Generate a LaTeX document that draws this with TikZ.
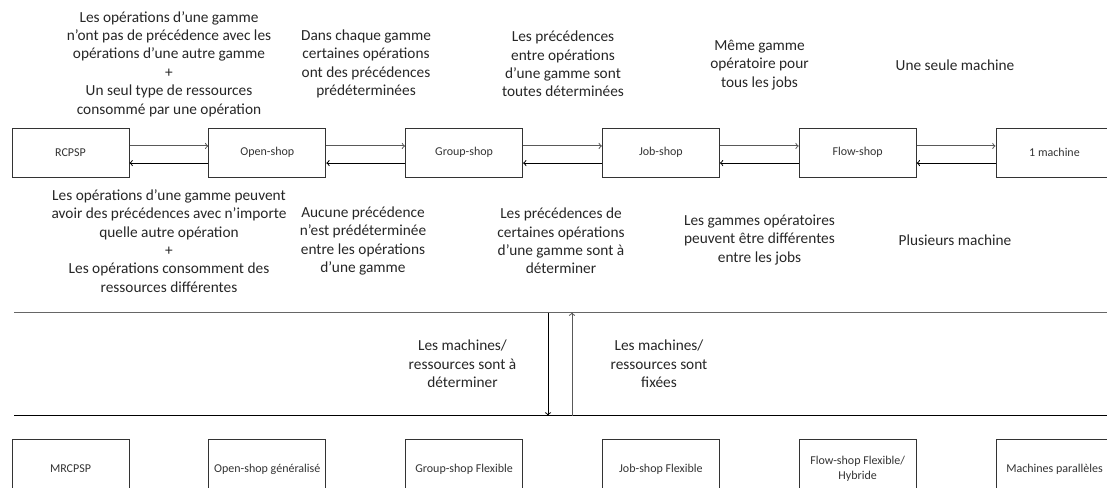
\documentclass[tikz,border=0pt]{standalone}
\usepackage{fontspec}
\setmainfont{Carlito}

\tikzset{
  shopbox/.style={draw=black!80, line width=.75pt, minimum width=87.75pt, minimum height=36.75pt,
    inner sep=1pt, align=center, text=black!80, font=\fontsize{9}{11}\selectfont},
  flexbox/.style={shopbox, minimum height=45pt},
  note/.style={align=center, inner sep=0pt, text=black!85, font=\fontsize{11.5}{13.8}\selectfont},
  fwd/.style={->, draw=black!65, line width=.75pt},
  bwd/.style={->, draw=black, line width=.75pt},
}

\begin{document}
\begin{tikzpicture}[x=.75pt, y=-.75pt]
			\useasboundingbox (0,0) rectangle (1107,487);
			\clip (0,0) rectangle (1107,487);

			% rangee du haut
			\node[shopbox] (rcpsp) at (70.5,152.5) {RCPSP};
			\node[shopbox] (open) at (267.3,152.5) {Open-shop};
			\node[shopbox] (group) at (464.1,152.5) {Group-shop};
			\node[shopbox] (job) at (660.9,152.5) {Job-shop};
			\node[shopbox] (flow) at (857.7,152.5) {Flow-shop};
			\node[shopbox] (onem) at (1054.5,152.5) {1 machine};

			\draw[fwd] ([yshift=4.9pt]rcpsp.east) -- ([yshift=4.9pt]open.west);
			\draw[bwd] ([yshift=-7.9pt]open.west) -- ([yshift=-7.9pt]rcpsp.east);
			\draw[fwd] ([yshift=4.9pt]open.east) -- ([yshift=4.9pt]group.west);
			\draw[bwd] ([yshift=-7.9pt]group.west) -- ([yshift=-7.9pt]open.east);
			\draw[fwd] ([yshift=4.9pt]group.east) -- ([yshift=4.9pt]job.west);
			\draw[bwd] ([yshift=-7.9pt]job.west) -- ([yshift=-7.9pt]group.east);
			\draw[fwd] ([yshift=4.9pt]job.east) -- ([yshift=4.9pt]flow.west);
			\draw[bwd] ([yshift=-7.9pt]flow.west) -- ([yshift=-7.9pt]job.east);
			\draw[fwd] ([yshift=4.9pt]flow.east) -- ([yshift=4.9pt]onem.west);
			\draw[bwd] ([yshift=-7.9pt]onem.west) -- ([yshift=-7.9pt]flow.east);

			% textes au-dessus
			\node[note] (up1) at (169,64) {Les opérations d’une gamme\\n’ont pas de précédence avec les\\opérations d’une autre gamme\\+\\Un seul type de ressources\\consommé par une opération};
			\node[note] (up2) at (366,64) {Dans chaque gamme\\certaines opérations\\ont des précédences\\prédéterminées};
			\node[note] (up3) at (563,64) {Les précédences\\entre opérations\\d’une gamme sont\\toutes déterminées};
			\node[note] (up4) at (759.5,65) {Même gamme\\opératoire pour\\tous les jobs};
			\node[note] (up5) at (955,65) {Une seule machine};

			% textes au-dessous
			\node[note] (dn1) at (169,241) {Les opérations d’une gamme peuvent\\avoir des précédences avec n’importe\\quelle autre opération\\+\\Les opérations consomment des\\ressources différentes};
			\node[note] (dn2) at (363,241) {Aucune précédence\\n’est prédéterminée\\entre les opérations\\d’une gamme};
			\node[note] (dn3) at (561,241) {Les précédences de\\certaines opérations\\d’une gamme sont à\\déterminer};
			\node[note] (dn4) at (759.5,240) {Les gammes opératoires\\peuvent être différentes\\entre les jobs};
			\node[note] (dn5) at (955,240) {Plusieurs machine};

			% separation machines
			\coordinate (lineA-l) at (14,312.5);
			\coordinate (lineA-r) at (1120,312.5);
			\coordinate (lineB-l) at (14,415.5);
			\coordinate (lineB-r) at (1120,415.5);
			\draw[draw=black!60, line width=1.1pt] (lineA-l) -- (lineA-r);
			\draw[draw=black, line width=.8pt] (lineB-l) -- (lineB-r);

			\coordinate (down-s) at (548,312.5);
			\coordinate (down-e) at (548,415.5);
			\coordinate (up-s) at (572,415.5);
			\coordinate (up-e) at (572,312.5);
			\draw[bwd] (down-s) -- (down-e);
			\draw[fwd] (up-s) -- (up-e);

			\node[note] (mid1) at (462.5,364) {Les machines/\\ressources sont à\\déterminer};
			\node[note] (mid2) at (659,364) {Les machines/\\ressources sont\\fixées};

			% rangee du bas
			\node[flexbox] (mrcpsp) at (70.5,469) {MRCPSP};
			\node[flexbox] (openg) at (267.3,469) {Open-shop généralisé};
			\node[flexbox] (groupf) at (464.1,469) {Group-shop Flexible};
			\node[flexbox] (jobf) at (660.9,469) {Job-shop Flexible};
			\node[flexbox] (flowf) at (857.7,469) {Flow-shop Flexible/\\Hybride};
			\node[flexbox] (parm) at (1054.5,469) {Machines parallèles};
\end{tikzpicture}
\end{document}
